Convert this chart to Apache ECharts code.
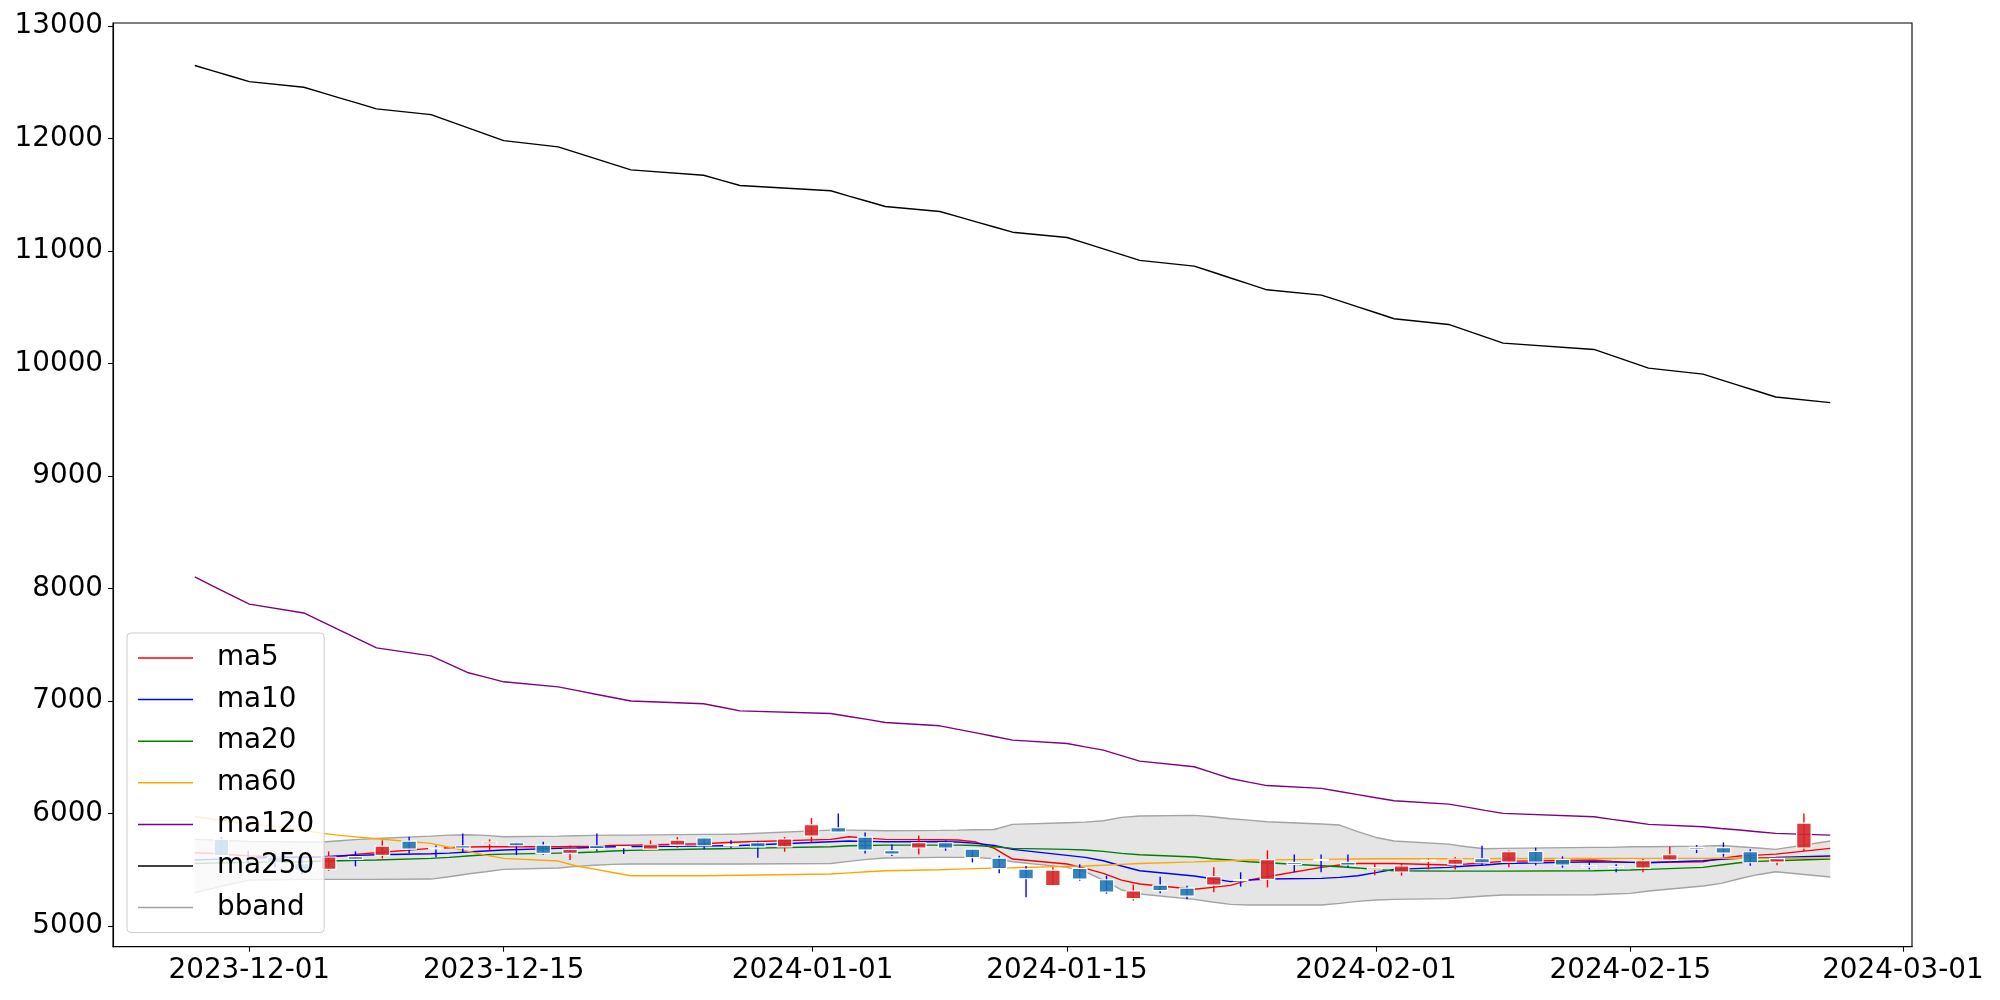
<!DOCTYPE html>
<html><head><meta charset="utf-8">
<script src="https://cdn.jsdelivr.net/npm/echarts@6/dist/echarts.min.js"></script>
<style>html,body{margin:0;padding:0;background:#fff}#c{width:2000px;height:1000px}</style>
</head><body><div id="c"></div>
<script>
// ---- data ----
const dates = ['2023-11-28','2023-11-29','2023-11-30','2023-12-01','2023-12-04','2023-12-05','2023-12-06','2023-12-07','2023-12-08','2023-12-11',
 '2023-12-12','2023-12-13','2023-12-14','2023-12-15','2023-12-18','2023-12-19','2023-12-20','2023-12-21','2023-12-22','2023-12-26',
 '2023-12-27','2023-12-28','2024-01-02','2024-01-03','2024-01-04','2024-01-05','2024-01-08','2024-01-09','2024-01-10','2024-01-11',
 '2024-01-12','2024-01-15','2024-01-16','2024-01-17','2024-01-18','2024-01-19','2024-01-22','2024-01-23','2024-01-24','2024-01-25',
 '2024-01-26','2024-01-29','2024-01-30','2024-01-31','2024-02-01','2024-02-02','2024-02-05','2024-02-06','2024-02-07','2024-02-08',
 '2024-02-13','2024-02-14','2024-02-15','2024-02-16','2024-02-19','2024-02-20','2024-02-21','2024-02-22','2024-02-23','2024-02-26'];

const candleOpen  = [5770,5610,5613,5553,5503,5616,5628,5755,5695,5713, 5731,5740,5719,5645,5713,5705,5684,5719,5784,5722,
                     5740,5704,5799,5873,5790,5669,5693,5740,5684,5604, 5506,5358,5512,5411,5243,5364,5337,5364,5412,5414,
                     5565,5592,5565,5506,5480,5580,5548,5598,5568,5663, 5592,5536,5527,5515,5586,5698,5696,5660,5568,5693];
const candleClose = [5625,5600,5562,5497,5613,5592,5710,5684,5688,5693, 5746,5713,5645,5681,5687,5700,5722,5764,5713,5716,
                     5704,5773,5900,5835,5675,5639,5740,5693,5607,5509, 5420,5497,5417,5302,5311,5314,5266,5438,5405,5589,
                     5548,5585,5542,5518,5533,5585,5595,5562,5660,5568, 5542,5524,5515,5580,5633,5684,5648,5562,5598,5915];
const candleHigh  = [5793,5669,5633,5639,5663,5663,5761,5793,5716,5823, 5770,5740,5749,5716,5823,5710,5761,5790,5784,5761,
                     5755,5790,5959,6000,5832,5725,5805,5761,5684,5625, 5533,5521,5548,5447,5367,5438,5358,5521,5477,5672,
                     5636,5636,5636,5551,5557,5598,5613,5713,5672,5696, 5619,5565,5548,5595,5707,5719,5743,5681,5598,6000];
const candleLow   = [5620,5533,5521,5459,5491,5530,5601,5645,5610,5654, 5669,5630,5633,5586,5666,5639,5680,5696,5681,5693,
                     5607,5660,5743,5835,5645,5622,5636,5669,5565,5468, 5255,5358,5403,5287,5225,5290,5237,5299,5350,5343,
                     5477,5477,5521,5450,5447,5503,5503,5542,5521,5539, 5518,5503,5477,5477,5562,5648,5616,5536,5539,5666];

const ma5   = [5651,5645,5633,5622,5610,5610,5622,5639,5651,5690, 5696,5702,5704,5704,5704,5707,5710,5716,5719,5731,
               5740,5746,5770,5793,5781,5770,5767,5764,5746,5690, 5595,5551,5512,5468,5408,5373,5326,5343,5361,5408,
               5438,5521,5542,5556,5556,5556,5542,5551,5562,5574, 5586,5574,5565,5565,5571,5601,5622,5630,5639,5690];
const ma10  = [5586,5592,5598,5604,5613,5616,5622,5628,5633,5642, 5648,5657,5666,5675,5690,5693,5699,5704,5707,5710,
               5713,5716,5749,5755,5752,5749,5749,5746,5734,5716, 5681,5628,5610,5580,5533,5491,5444,5420,5394,5408,
               5417,5423,5432,5447,5474,5503,5521,5533,5542,5556, 5571,5568,5565,5562,5580,5592,5601,5607,5610,5622];
const ma20  = [5556,5559,5562,5565,5571,5577,5580,5583,5586,5601, 5610,5622,5633,5639,5648,5651,5657,5666,5672,5684,
               5687,5690,5704,5713,5716,5719,5719,5719,5716,5704, 5690,5681,5675,5663,5645,5633,5613,5598,5586,5571,
               5562,5536,5527,5515,5503,5491,5488,5488,5488,5488, 5491,5494,5497,5503,5521,5542,5562,5574,5580,5595];
const ma60  = [5971,5950,5930,5910,5850,5823,5805,5790,5775,5734, 5700,5665,5630,5601,5577,5533,5505,5475,5447,5447,
               5449,5451,5462,5472,5482,5491,5500,5505,5510,5515, 5518,5530,5533,5540,5548,5556,5570,5576,5581,5586,
               5588,5592,5594,5596,5597,5598,5598,5599,5599,5600, 5600,5600,5601,5601,5601,5602,5602,5602,5602,5603];
const ma120 = [8102,8020,7940,7860,7782,7705,7627,7550,7472,7401, 7327,7253,7212,7170,7125,7094,7062,7031,7000,6975,
               6944,6912,6889,6862,6836,6809,6779,6747,6716,6684, 6652,6622,6592,6563,6514,6465,6415,6363,6311,6279,
               6248,6223,6195,6168,6140,6113,6083,6056,6028,6001, 5971,5948,5926,5903,5882,5867,5853,5838,5823,5808];
const ma250 = [12647,12599,12552,12504,12454,12406,12358,12310,12262,12211, 12153,12095,12038,11980,11924,11873,11822,11771,11720,11672,
               11626,11581,11534,11487,11441,11394,11350,11304,11258,11212, 11166,11119,11068,11017,10966,10915,10864,10812,10759,10707,
               10654,10607,10555,10502,10450,10397,10346,10291,10235,10180, 10124,10069,10013,9958,9905,9854,9803,9752,9701,9651];
const bbandUpper = [5770,5764,5758,5752,5746,5746,5758,5770,5778,5799, 5808,5811,5805,5793,5799,5802,5805,5808,5808,5814,
               5814,5817,5852,5852,5850,5847,5850,5852,5855,5858, 5903,5918,5923,5935,5965,5977,5983,5971,5953,5941,
               5926,5906,5897,5838,5787,5755,5728,5704,5687,5690, 5699,5699,5704,5704,5710,5716,5704,5693,5681,5755];
const bbandLower = [5296,5334,5373,5408,5414,5414,5414,5414,5414,5417, 5438,5462,5482,5503,5515,5530,5540,5548,5551,5551,
               5551,5551,5556,5574,5592,5604,5610,5610,5610,5598, 5571,5521,5482,5408,5320,5284,5237,5213,5192,5186,
               5186,5186,5201,5219,5231,5237,5243,5255,5266,5275, 5278,5284,5290,5311,5355,5379,5420,5456,5482,5435];

const xTickLabels = ['2023-12-01','2023-12-15','2024-01-01','2024-01-15','2024-02-01','2024-02-15','2024-03-01'];
const yTickLabels = [5000,6000,7000,8000,9000,10000,11000,12000,13000];

// ---- build ----
const toTs = d => Date.parse(d + 'T00:00:00Z');
const ts = dates.map(toTs);
const xTicks = xTickLabels.map(toTs);
const FONT = 'DejaVu Sans';
const FS = 27.8;

function lineSeries(name, values, color, width) {
  return {
    name, type: 'line', xAxisIndex: 0, yAxisIndex: 0,
    data: values.map((v, i) => [ts[i], v]),
    showSymbol: false, symbol: 'none', color: color,
    lineStyle: { color: color, width: width }, itemStyle: { color: color },
    z: 3, silent: true, animation: false, clip: true
  };
}

const chart = echarts.init(document.getElementById('c'), null, { renderer: 'canvas' });
const option = {
  animation: false,
  backgroundColor: '#ffffff',
  grid: { left: 113, right: 88, top: 23, bottom: 53.3, show: true, borderColor: '#000', borderWidth: 1.1, backgroundColor: 'transparent' },
  xAxis: [{
    type: 'value', min: Date.UTC(2023, 10, 23, 12), max: Date.UTC(2024, 2, 1, 12),
    axisLine: { show: true, onZero: false, lineStyle: { color: '#000', width: 1.1 } },
    axisTick: { show: true, inside: false, length: 5, customValues: xTicks, lineStyle: { color: '#000', width: 1.1 } },
    axisLabel: { show: true, margin: 10, customValues: xTicks, fontFamily: FONT, fontSize: FS, color: '#000',
      formatter: v => new Date(v).toISOString().slice(0, 10) },
    splitLine: { show: false }
  }, {
    type: 'value', min: -4.04, max: 63.03, show: false,
    axisLine: { show: false, onZero: false }, axisTick: { show: false }, axisLabel: { show: false }, splitLine: { show: false }
  }],
  yAxis: [{
    type: 'value', min: 4816, max: 13025,
    axisLine: { show: true, onZero: false, lineStyle: { color: '#000', width: 1.1 } },
    axisTick: { show: true, inside: false, length: 5, customValues: yTickLabels, lineStyle: { color: '#000', width: 1.1 } },
    axisLabel: { show: true, margin: 10, customValues: yTickLabels, fontFamily: FONT, fontSize: FS, color: '#000',
      formatter: v => String(v) },
    splitLine: { show: false }
  }],
  legend: {
    orient: 'vertical', left: 127, top: 633,
    padding: [11, 10, 11, 11], itemGap: 13.6, itemWidth: 55, itemHeight: 1.5,
    icon: 'rect',
    backgroundColor: 'rgba(255,255,255,0.8)', borderColor: '#cccccc', borderWidth: 1, borderRadius: 4,
    textStyle: { fontFamily: FONT, fontSize: FS, color: '#000', lineHeight: 28, padding: [0, 0, 0, 19] },
    data: ['ma5', 'ma10', 'ma20', 'ma60', 'ma120', 'ma250', 'bband'],
    selectedMode: false, z: 10
  },
  series: [
    {
      name: 'bbandFill', type: 'custom', xAxisIndex: 0, yAxisIndex: 0, z: 1, silent: true,
      data: ts.map((t, i) => [t, bbandUpper[i], bbandLower[i]]),
      encode: { x: 0, y: [1, 2] },
      renderItem: function (params, api) {
        if (params.dataIndex !== 0) return null;
        const pts = [];
        for (let i = 0; i < ts.length; i++) pts.push(api.coord([ts[i], bbandUpper[i]]));
        for (let i = ts.length - 1; i >= 0; i--) pts.push(api.coord([ts[i], bbandLower[i]]));
        return { type: 'polygon', shape: { points: pts }, style: { fill: 'rgba(211,211,211,0.6)' } };
      }
    },
    lineSeries('bband', bbandUpper, '#a3a3a3', 1.4),
    lineSeries('bband_lower', bbandLower, '#a3a3a3', 1.4),
    lineSeries('ma5', ma5, '#ff0000', 1.4),
    lineSeries('ma10', ma10, '#0000ff', 1.4),
    lineSeries('ma20', ma20, '#008000', 1.4),
    lineSeries('ma60', ma60, '#ffa500', 1.4),
    lineSeries('ma120', ma120, '#800080', 1.4),
    lineSeries('ma250', ma250, '#000000', 1.4),
    {
      name: 'candles', type: 'custom', xAxisIndex: 1, yAxisIndex: 0, z: 5, silent: true,
      data: candleOpen.map((o, i) => [i, o, candleClose[i], candleLow[i], candleHigh[i]]),
      encode: { x: 0, y: [1, 2, 3, 4] },
      renderItem: function (params, api) {
        const i = api.value(0), o = api.value(1), c = api.value(2), l = api.value(3), h = api.value(4);
        const pO = api.coord([i, o]), pC = api.coord([i, c]), pL = api.coord([i, l]), pH = api.coord([i, h]);
        const up = c >= o;
        const x = pO[0];
        const w = 14.5;
        const top = Math.min(pO[1], pC[1]);
        const hgt = Math.max(Math.abs(pO[1] - pC[1]), 1);
        return {
          type: 'group', children: [
            { type: 'line', shape: { x1: x, y1: pH[1], x2: x, y2: pL[1] },
              style: { stroke: up ? '#ff0000' : '#0000ff', lineWidth: 1.4 } },
            { type: 'rect', shape: { x: x - w / 2, y: top, width: w, height: hgt },
              style: { fill: up ? 'rgba(214,39,40,0.9)' : 'rgba(31,119,180,0.9)', stroke: '#ffffff', lineWidth: 1.2 } }
          ]
        };
      }
    }
  ]
};
chart.setOption(option);
</script>
</body></html>
